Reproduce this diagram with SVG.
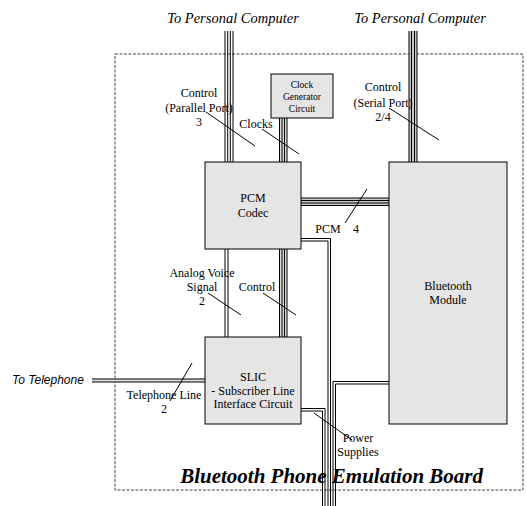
<svg xmlns="http://www.w3.org/2000/svg" width="527" height="506" viewBox="0 0 527 506">
  <style>
    .box { fill: #e5e5e5; stroke: #000; stroke-width: 1; }
    .lbl { font-family: "Liberation Serif", "Times New Roman", serif; font-size: 12px; text-anchor: middle; fill: #000; }
    .small { font-size: 9.5px; }
    .ext { font-family: "Liberation Serif", "Times New Roman", serif; font-size: 14.5px; font-style: italic; text-anchor: middle; fill: #000; }
    .tel { font-family: "Liberation Sans", Arial, sans-serif; font-size: 12px; font-style: italic; fill: #000; }
    .title { font-family: "Liberation Serif", "Times New Roman", serif; font-size: 21px; font-weight: bold; font-style: italic; text-anchor: end; fill: #000; }
    .wire { stroke: #000; stroke-width: 1; fill: none; }
    .busfill { fill: #c9c9c9; stroke: none; }
    .lead { stroke: #000; stroke-width: 1; fill: none; }
    .frame { fill: none; stroke: #444; stroke-width: 1; stroke-dasharray: 3 1.5; }
  </style>

  <!-- board outline -->
  <g id="board">
    <rect class="frame" x="115" y="54" width="408" height="436"/>
  </g>

  <!-- connectors -->
  <g id="connectors">
    <!-- parallel port bus to PC -->
    <g id="bus-parallel">
      <line class="wire" x1="225" y1="31" x2="225" y2="162"/>
      <line class="wire" x1="227.7" y1="31" x2="227.7" y2="162"/>
      <line class="wire" x1="230.3" y1="31" x2="230.3" y2="162"/>
      <line class="wire" x1="233" y1="31" x2="233" y2="162"/>
    </g>
    <!-- serial port bus to PC -->
    <g id="bus-serial">
      <rect class="busfill" x="409" y="31" width="8" height="131"/>
      <line class="wire" x1="409" y1="31" x2="409" y2="162"/>
      <line class="wire" x1="411.5" y1="31" x2="411.5" y2="162"/>
      <line class="wire" x1="414.5" y1="31" x2="414.5" y2="162"/>
      <line class="wire" x1="417" y1="31" x2="417" y2="162"/>
    </g>
    <!-- clocks -->
    <g id="bus-clocks">
      <rect class="busfill" x="279.5" y="118" width="7.5" height="44" style="fill:#dcdcdc"/>
      <line class="wire" x1="279.5" y1="118" x2="279.5" y2="162"/>
      <line class="wire" x1="282" y1="118" x2="282" y2="162"/>
      <line class="wire" x1="284.5" y1="118" x2="284.5" y2="162"/>
      <line class="wire" x1="287" y1="118" x2="287" y2="162"/>
    </g>
    <!-- PCM bus -->
    <g id="bus-pcm">
      <rect class="busfill" x="301" y="198" width="88" height="7.5"/>
      <line class="wire" x1="301" y1="198" x2="389" y2="198"/>
      <line class="wire" x1="301" y1="200.5" x2="389" y2="200.5"/>
      <line class="wire" x1="301" y1="203" x2="389" y2="203"/>
      <line class="wire" x1="301" y1="205.5" x2="389" y2="205.5"/>
    </g>
    <!-- analog voice -->
    <g id="bus-analog">
      <line class="wire" x1="225" y1="249" x2="225" y2="337"/>
      <line class="wire" x1="228" y1="249" x2="228" y2="337"/>
    </g>
    <!-- codec to SLIC control -->
    <g id="bus-control">
      <rect class="busfill" x="279.5" y="249" width="7.5" height="88" style="fill:#dcdcdc"/>
      <line class="wire" x1="279.5" y1="249" x2="279.5" y2="337"/>
      <line class="wire" x1="282" y1="249" x2="282" y2="337"/>
      <line class="wire" x1="284.5" y1="249" x2="284.5" y2="337"/>
      <line class="wire" x1="287" y1="249" x2="287" y2="337"/>
    </g>
    <!-- telephone line -->
    <g id="bus-telephone">
      <rect class="busfill" x="92" y="379" width="113" height="3" style="fill:#dcdcdc"/>
      <line class="wire" x1="92" y1="379" x2="205" y2="379"/>
      <line class="wire" x1="92" y1="382" x2="205" y2="382"/>
    </g>
    <!-- power supplies -->
    <g id="power">
      <path class="wire" d="M301,408.5 H325 V506"/>
      <path class="wire" d="M301,411 H322.5 V506"/>
      <path class="wire" d="M301,238.5 H330.5 V506"/>
      <path class="wire" d="M301,241 H328 V506"/>
      <path class="wire" d="M389,381.5 H333 V506"/>
      <path class="wire" d="M389,384 H335.5 V506"/>
    </g>
    <!-- label leaders -->
    <g id="leaders">
      <line class="lead" x1="206" y1="112" x2="255" y2="146"/>
      <line class="lead" x1="262" y1="129" x2="299" y2="154"/>
      <line class="lead" x1="389" y1="108" x2="439" y2="140"/>
      <line class="lead" x1="367" y1="189" x2="345" y2="223"/>
      <line class="lead" x1="208" y1="293" x2="241" y2="315"/>
      <line class="lead" x1="263" y1="293" x2="296" y2="315"/>
      <line class="lead" x1="192" y1="363" x2="170" y2="401"/>
      <line class="lead" x1="314" y1="413" x2="352" y2="440"/>
    </g>
  </g>

  <!-- external endpoints -->
  <g id="pc-parallel">
    <text class="ext" x="233" y="23">To Personal Computer</text>
  </g>
  <g id="pc-serial">
    <text class="ext" x="420" y="23">To Personal Computer</text>
  </g>
  <g id="telephone">
    <text class="tel" x="12" y="384">To Telephone</text>
  </g>

  <!-- blocks -->
  <g id="clock-gen">
    <rect class="box" x="271" y="74" width="62" height="44"/>
    <text class="lbl small" x="302" y="87.5">Clock</text>
    <text class="lbl small" x="302" y="100">Generator</text>
    <text class="lbl small" x="302" y="112">Circuit</text>
  </g>
  <g id="pcm-codec">
    <rect class="box" x="205" y="162" width="96" height="87"/>
    <text class="lbl" x="253" y="202">PCM</text>
    <text class="lbl" x="253" y="217">Codec</text>
  </g>
  <g id="slic">
    <rect class="box" x="205" y="337" width="96" height="87"/>
    <text class="lbl" x="253" y="381">SLIC</text>
    <text class="lbl" x="253" y="395">- Subscriber Line</text>
    <text class="lbl" x="253" y="408">Interface Circuit</text>
  </g>
  <g id="bt-module">
    <rect class="box" x="389" y="162" width="118" height="262"/>
    <text class="lbl" x="448" y="290">Bluetooth</text>
    <text class="lbl" x="448" y="304">Module</text>
  </g>

  <!-- connector labels -->
  <g id="labels">
    <text class="lbl" x="199" y="97">Control</text>
    <text class="lbl" x="199" y="111.5">(Parallel Port)</text>
    <text class="lbl" x="199" y="126">3</text>
    <text class="lbl" x="256" y="128">Clocks</text>
    <text class="lbl" x="383" y="91">Control</text>
    <text class="lbl" x="383" y="106.5">(Serial Port)</text>
    <text class="lbl" x="383" y="121">2/4</text>
    <text class="lbl" x="328" y="233">PCM</text>
    <text class="lbl" x="356" y="233">4</text>
    <text class="lbl" x="202" y="277">Analog Voice</text>
    <text class="lbl" x="202" y="291">Signal</text>
    <text class="lbl" x="202" y="305">2</text>
    <text class="lbl" x="257" y="291">Control</text>
    <text class="lbl" x="164" y="399">Telephone Line</text>
    <text class="lbl" x="164" y="413">2</text>
    <text class="lbl" x="358" y="442">Power</text>
    <text class="lbl" x="358" y="456">Supplies</text>
  </g>

  <text class="title" x="483" y="483">Bluetooth Phone Emulation Board</text>
</svg>
